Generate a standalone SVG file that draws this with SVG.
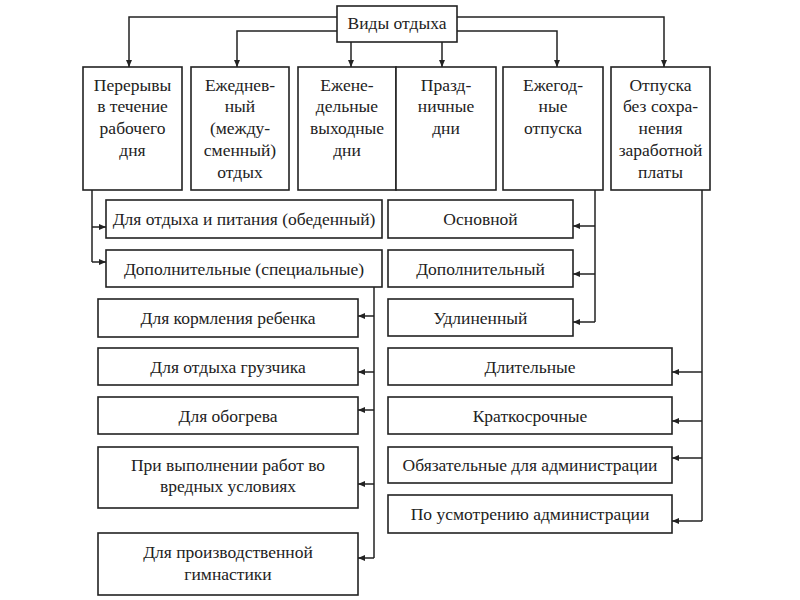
<svg xmlns="http://www.w3.org/2000/svg" width="800" height="600" viewBox="0 0 800 600">
<defs>
<marker id="arr" markerWidth="8" markerHeight="8" refX="7" refY="4" orient="auto" markerUnits="userSpaceOnUse">
<path d="M0,1 L7,4 L0,7 Z" fill="#222"/>
</marker>
<style>
.box{fill:#fff;stroke:#222;stroke-width:1.6}
.t{font-family:"Liberation Serif","Times New Roman",serif;font-size:17.5px;fill:#222;text-anchor:middle}
.c{fill:none;stroke:#222;stroke-width:1.5}
.a{fill:none;stroke:#222;stroke-width:1.5;marker-end:url(#arr)}
</style>
</defs>
<rect width="800" height="600" fill="#fff"/>
<g id="connectors">
<path class="a" d="M337,17 H129 V67"/>
<path class="a" d="M337,31 H237 V67"/>
<path class="a" d="M351,42 V67"/>
<path class="a" d="M442,42 V67"/>
<path class="a" d="M457,31 H557 V67"/>
<path class="a" d="M457,17 H664 V67"/>
<path class="c" d="M92,190 V262"/>
<path class="a" d="M92,227 H106"/>
<path class="a" d="M92,262 H106"/>
<path class="c" d="M374,287 V558"/>
<path class="a" d="M374,316 H358"/>
<path class="a" d="M374,372 H358"/>
<path class="a" d="M374,410 H358"/>
<path class="a" d="M374,484 H358"/>
<path class="a" d="M374,558 H358"/>
<path class="c" d="M595,190 V322"/>
<path class="a" d="M595,226 H573"/>
<path class="a" d="M595,274 H573"/>
<path class="a" d="M595,322 H573"/>
<path class="c" d="M702,190 V521"/>
<path class="a" d="M702,372 H672"/>
<path class="a" d="M702,421 H672"/>
<path class="a" d="M702,458 H672"/>
<path class="a" d="M702,521 H672"/>
</g>
<g id="root"><rect class="box" x="337" y="6" width="120" height="36"/><text class="t" x="397" y="29">Виды отдыха</text></g>
<g id="n1"><rect class="box" x="83" y="67" width="99" height="123"/>
<text class="t" x="132.5" y="91">Перерывы</text><text class="t" x="132.5" y="112">в течение</text><text class="t" x="132.5" y="134">рабочего</text><text class="t" x="132.5" y="156">дня</text></g>
<g id="n2"><rect class="box" x="191" y="67" width="98" height="123"/>
<text class="t" x="240" y="91">Ежеднев-</text><text class="t" x="240" y="112">ный</text><text class="t" x="240" y="134">(между-</text><text class="t" x="240" y="156">сменный)</text><text class="t" x="240" y="178">отдых</text></g>
<g id="n3"><rect class="box" x="298" y="67" width="98" height="123"/>
<text class="t" x="347" y="91">Ежене-</text><text class="t" x="347" y="112">дельные</text><text class="t" x="347" y="134">выходные</text><text class="t" x="347" y="156">дни</text></g>
<g id="n4"><rect class="box" x="396" y="67" width="100" height="123"/>
<text class="t" x="446" y="91">Празд-</text><text class="t" x="446" y="112">ничные</text><text class="t" x="446" y="134">дни</text></g>
<g id="n5"><rect class="box" x="503" y="67" width="100" height="123"/>
<text class="t" x="553" y="91">Ежегод-</text><text class="t" x="553" y="112">ные</text><text class="t" x="553" y="134">отпуска</text></g>
<g id="n6"><rect class="box" x="611" y="67" width="99" height="123"/>
<text class="t" x="660.5" y="91">Отпуска</text><text class="t" x="660.5" y="112">без сохра-</text><text class="t" x="660.5" y="134">нения</text><text class="t" x="660.5" y="156">заработной</text><text class="t" x="660.5" y="178">платы</text></g>
<g id="l1"><rect class="box" x="106" y="200" width="276" height="38"/><text class="t" x="244" y="225">Для отдыха и питания (обеденный)</text></g>
<g id="l2"><rect class="box" x="106" y="250" width="276" height="37"/><text class="t" x="244" y="275">Дополнительные (специальные)</text></g>
<g id="l3"><rect class="box" x="98" y="299" width="260" height="38"/><text class="t" x="228" y="324">Для кормления ребенка</text></g>
<g id="l4"><rect class="box" x="98" y="348" width="260" height="37"/><text class="t" x="228" y="373">Для отдыха грузчика</text></g>
<g id="l5"><rect class="box" x="98" y="397" width="260" height="37"/><text class="t" x="228" y="422">Для обогрева</text></g>
<g id="l6"><rect class="box" x="98" y="447" width="260" height="61"/><text class="t" x="228" y="471">При выполнении работ во</text><text class="t" x="228" y="492">вредных условиях</text></g>
<g id="l7"><rect class="box" x="98" y="533" width="260" height="62"/><text class="t" x="228" y="558">Для производственной</text><text class="t" x="228" y="580">гимнастики</text></g>
<g id="r1"><rect class="box" x="388" y="200" width="185" height="38"/><text class="t" x="480.5" y="225">Основной</text></g>
<g id="r2"><rect class="box" x="388" y="250" width="185" height="37"/><text class="t" x="480.5" y="275">Дополнительный</text></g>
<g id="r3"><rect class="box" x="388" y="299" width="185" height="37"/><text class="t" x="480.5" y="324">Удлиненный</text></g>
<g id="s1"><rect class="box" x="388" y="348" width="284" height="37"/><text class="t" x="530" y="373">Длительные</text></g>
<g id="s2"><rect class="box" x="388" y="397" width="284" height="37"/><text class="t" x="530" y="422">Краткосрочные</text></g>
<g id="s3"><rect class="box" x="388" y="447" width="284" height="36"/><text class="t" x="530" y="471">Обязательные для администрации</text></g>
<g id="s4"><rect class="box" x="388" y="495" width="284" height="38"/><text class="t" x="530" y="520">По усмотрению администрации</text></g>
</svg>
